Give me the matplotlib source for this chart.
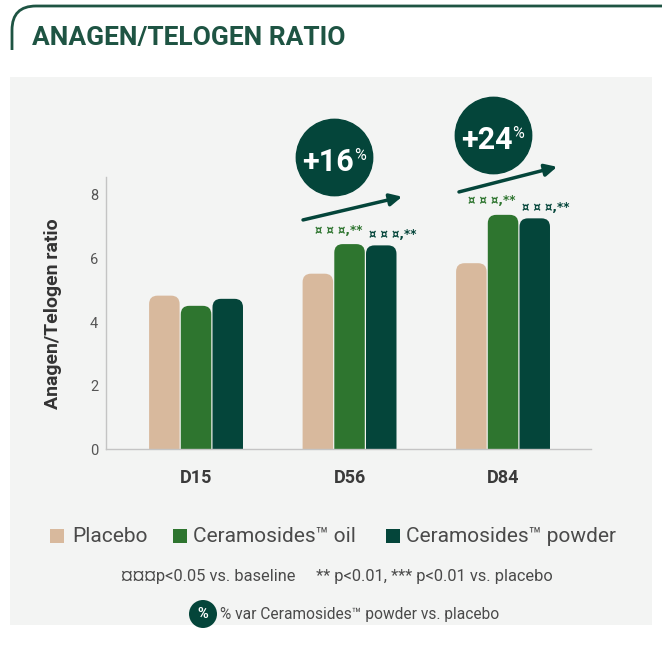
import matplotlib
matplotlib.use("Agg")
import matplotlib.pyplot as plt
from matplotlib.patches import FancyBboxPatch, Rectangle, Circle, PathPatch
from matplotlib.path import Path
import numpy as np

# ---------------- data ----------------
categories = ["D15", "D56", "D84"]
series_names = ["Placebo", "Ceramosides\u2122 oil", "Ceramosides\u2122 powder"]
placebo = [4.83, 5.52, 5.85]
cer_oil = [4.51, 6.45, 7.37]
cer_powder = [4.73, 6.41, 7.26]
oil_sig = [None, "\u00a4 \u00a4 \u00a4,**", "\u00a4 \u00a4 \u00a4,**"]
powder_sig = [None, "\u00a4 \u00a4 \u00a4,**", "\u00a4 \u00a4 \u00a4,**"]
y_ticks = [0, 2, 4, 6, 8]

colors = ["#D8B99D", "#2E752F", "#04453A"]
title_color = "#1E5443"
panel_color = "#F3F4F3"
text_dark = "#3A3A3A"
text_mid = "#4A4A4A"

plt.rcParams["font.family"] = ["Roboto", "DejaVu Sans"]

W, H = 662, 653
fig = plt.figure(figsize=(W / 100, H / 100), dpi=100)
fig.patch.set_facecolor("white")

# background overlay in pixel coordinates
bg = fig.add_axes([0, 0, 1, 1], zorder=0)
bg.set_xlim(0, W)
bg.set_ylim(H, 0)
bg.axis("off")
bg.add_patch(Rectangle((10, 77), 642, 548, facecolor=panel_color, edgecolor="none"))
# title bracket
verts = [(12, 50), (12, 30), (12, 6), (36, 6), (662, 6)]
codes = [Path.MOVETO, Path.LINETO, Path.CURVE3, Path.CURVE3, Path.LINETO]
bg.add_patch(PathPatch(Path(verts, codes), facecolor="none", edgecolor=title_color, lw=2))
bg.text(32, 38, "ANAGEN/TELOGEN RATIO", fontsize=19, fontweight="bold",
        color=title_color, va="center", ha="left")

# ---------------- main axes ----------------
left_px, right_px, top_px, bot_px = 106.4, 591, 177.3, 449.3
ax = fig.add_axes([left_px / W, (H - bot_px) / H, (right_px - left_px) / W,
                   (bot_px - top_px) / H], zorder=2)
ax.set_facecolor("none")

x = np.arange(len(categories))
step = 0.2065
bw = 0.1987
all_series = [placebo, cer_oil, cer_powder]
containers = []
for i, vals in enumerate(all_series):
    c = ax.bar(x + (i - 1) * step, vals, width=bw, color=colors[i])
    containers.append(c)

ax.set_xlim(-0.584, 2.573)
ax.set_ylim(0, 8.55)

# replace bars with rounded-top versions
r = 0.055
asp = 4.83
for i, cont in enumerate(containers):
    for b in cont:
        bx, bwid, bh = b.get_x(), b.get_width(), b.get_height()
        b.set_visible(False)
        p = FancyBboxPatch((bx, -1.0), bwid, bh + 1.0,
                           boxstyle=f"round,pad=0,rounding_size={r}",
                           mutation_aspect=asp, facecolor=colors[i],
                           edgecolor="none", zorder=2)
        p.set_clip_path(ax.patch)
        ax.add_patch(p)

for s in ["top", "right"]:
    ax.spines[s].set_visible(False)
for s in ["left", "bottom"]:
    ax.spines[s].set_color("#C4C4C4")
    ax.spines[s].set_linewidth(1)
ax.set_yticks(y_ticks)
ax.set_yticklabels([str(t) for t in y_ticks], fontsize=10.5, color="#555555")
ax.set_xticks(x)
ax.set_xticklabels(categories, fontsize=13, fontweight="bold", color=text_dark)
ax.tick_params(axis="both", length=0)
ax.tick_params(axis="y", pad=6)
ax.tick_params(axis="x", pad=14)
ax.set_ylabel("Anagen/Telogen ratio", fontsize=14, fontweight="bold",
              color="#333333", labelpad=20)

# significance labels
for j in range(len(categories)):
    if oil_sig[j]:
        ax.annotate(oil_sig[j], xy=(x[j], cer_oil[j]), xytext=(-8, 10),
                    textcoords="offset points", ha="center", va="center",
                    fontsize=8.5, color=colors[1], fontweight="bold",
                    family=["DejaVu Sans"])
    if powder_sig[j]:
        ax.annotate(powder_sig[j], xy=(x[j] + step, cer_powder[j]), xytext=(8, 8),
                    textcoords="offset points", ha="center", va="center",
                    fontsize=8.5, color=colors[2], fontweight="bold",
                    family=["DejaVu Sans"])

# percentage circles and arrows
circle_pos = {1: (0.90, 9.19), 2: (1.935, 9.88)}
arrow_pos = {1: ((0.697, 7.21), (1.342, 7.94)), 2: ((1.713, 8.09), (2.352, 8.88))}
for j in (1, 2):
    pct = round((cer_powder[j] - placebo[j]) / placebo[j] * 100)
    cx, cy = circle_pos[j]
    ax.plot([cx], [cy], "o", ms=55, color=colors[2], clip_on=False, zorder=4)
    ax.annotate(f"+{pct}", xy=(cx, cy), xytext=(14, -3.5), textcoords="offset points",
                ha="right", va="center", fontsize=22, fontweight="bold",
                color="white", zorder=5, annotation_clip=False)
    ax.annotate("%", xy=(cx, cy), xytext=(14, 1), textcoords="offset points",
                ha="left", va="center", fontsize=11.5, color="white",
                zorder=5, annotation_clip=False)
    (x0, y0), (x1, y1) = arrow_pos[j]
    ax.annotate("", xy=(x1, y1), xytext=(x0, y0),
                arrowprops=dict(arrowstyle="-|>", lw=2.5, color=colors[2],
                                mutation_scale=18, shrinkA=0, shrinkB=0),
                annotation_clip=False, zorder=4)

# ---------------- legend ----------------
leg_y = 536
leg_items = [(50, 72), (173, 193), (386, 406)]
for i, (sx, tx) in enumerate(leg_items):
    bg.add_patch(Rectangle((sx, leg_y - 7), 14, 14, facecolor=colors[i], edgecolor="none"))
    bg.text(tx, leg_y, series_names[i], fontsize=15, color=text_mid,
            va="center", ha="left")

bg.text(337, 577, "\u00a4\u00a4\u00a4p<0.05 vs. baseline     ** p<0.01, *** p<0.01 vs. placebo",
        fontsize=11.8, color=text_mid, ha="center", va="center",
        family=["Roboto", "DejaVu Sans"])

bg.add_patch(Circle((203, 614), 14, facecolor=colors[2], edgecolor="none"))
bg.text(203, 614, "%", fontsize=10.5, fontweight="bold", color="white",
        ha="center", va="center")
bg.text(220, 614, "% var Ceramosides\u2122 powder vs. placebo", fontsize=11.2,
        color=text_mid, ha="left", va="center")

fig.savefig("out.png", dpi=100, facecolor="white")
